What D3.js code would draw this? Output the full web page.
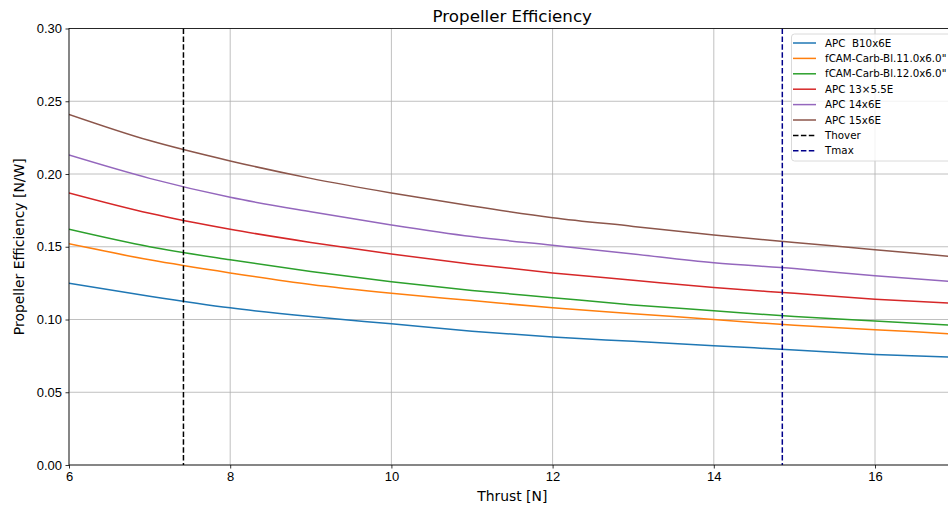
<!DOCTYPE html>
<html>
<head>
<meta charset="utf-8">
<script src="https://cdn.jsdelivr.net/npm/d3@7"></script>
<style>
  body { margin: 0; background: #fff; }
  svg { display: block; font-family: "DejaVu Sans", sans-serif; }
  .tick text { font-size: 13px; fill: #000; }
  text { white-space: pre; }
</style>
</head>
<body>
<div id="chart"></div>
<script>
// ! Data
var thrust = [6, 7, 8, 9, 10, 11, 12, 13, 14, 15, 16, 17];

var eff_b10 = [0.125, 0.116, 0.108, 0.102, 0.097, 0.092, 0.088, 0.085, 0.082, 0.079, 0.076, 0.074];
var eff_f11 = [0.152, 0.141, 0.132, 0.124, 0.118, 0.113, 0.108, 0.104, 0.100, 0.096, 0.093, 0.090];
var eff_f12 = [0.162, 0.150, 0.141, 0.133, 0.126, 0.120, 0.115, 0.110, 0.106, 0.102, 0.099, 0.096];
var eff_13 = [0.187, 0.173, 0.162, 0.153, 0.145, 0.138, 0.132, 0.127, 0.122, 0.118, 0.114, 0.111];
var eff_14 = [0.213, 0.197, 0.184, 0.174, 0.165, 0.157, 0.151, 0.145, 0.139, 0.135, 0.130, 0.126];
var eff_15 = [0.241, 0.223, 0.209, 0.197, 0.187, 0.178, 0.170, 0.164, 0.158, 0.153, 0.148, 0.143];

var series_names = ["APC  B10x6E", "fCAM-Carb-Bl.11.0x6.0\"", "fCAM-Carb-Bl.12.0x6.0\"", "APC 13\u00d75.5E", "APC 14x6E", "APC 15x6E"];
var series_values = [eff_b10, eff_f11, eff_f12, eff_13, eff_14, eff_15];
var series_colors = ["#1f77b4", "#ff7f0e", "#2ca02c", "#d62728", "#9467bd", "#8c564b"];

var t_hover = 7.42;
var t_max = 14.85;

var x_ticks = [6, 8, 10, 12, 14, 16];
var y_ticks = [0, 0.05, 0.10, 0.15, 0.20, 0.25, 0.30];

// ! Layout
var width = 948, height = 506;
var plot_left = 69, plot_right = 955.6, plot_top = 28.5, plot_bottom = 465;

var svg = d3.select("#chart")
  .append("svg")
  .attr("width", width)
  .attr("height", height);

var x = d3.scaleLinear().domain([6, 17]).range([plot_left, plot_right]);
var y = d3.scaleLinear().domain([0, 0.30]).range([plot_bottom, plot_top]);

// grid
svg.append("g")
  .selectAll("line")
  .data(x_ticks)
  .enter()
  .append("line")
  .attr("x1", function(d) { return x(d); })
  .attr("x2", function(d) { return x(d); })
  .attr("y1", plot_top)
  .attr("y2", plot_bottom)
  .attr("stroke", "#b0b0b0")
  .attr("stroke-width", 0.8);

svg.append("g")
  .selectAll("line")
  .data(y_ticks)
  .enter()
  .append("line")
  .attr("x1", plot_left)
  .attr("x2", plot_right)
  .attr("y1", function(d) { return y(d); })
  .attr("y2", function(d) { return y(d); })
  .attr("stroke", "#b0b0b0")
  .attr("stroke-width", 0.8);

// clip for the plot area
svg.append("clipPath")
  .attr("id", "plot_clip")
  .append("rect")
  .attr("x", plot_left)
  .attr("y", plot_top)
  .attr("width", plot_right - plot_left)
  .attr("height", plot_bottom - plot_top);

var line = d3.line()
  .x(function(d) { return x(d[0]); })
  .y(function(d) { return y(d[1]); })
  .curve(d3.curveMonotoneX);

var plot = svg.append("g").attr("clip-path", "url(#plot_clip)");

series_values.forEach(function(vals, i) {
  plot.append("path")
    .datum(d3.zip(thrust, vals))
    .attr("d", line)
    .attr("fill", "none")
    .attr("stroke", series_colors[i])
    .attr("stroke-width", 1.5);
});

// vertical markers
plot.append("line")
  .attr("x1", x(t_hover)).attr("x2", x(t_hover))
  .attr("y1", plot_top).attr("y2", plot_bottom)
  .attr("stroke", "#000")
  .attr("stroke-width", 1.5)
  .attr("stroke-dasharray", "5.5,2.4");

plot.append("line")
  .attr("x1", x(t_max)).attr("x2", x(t_max))
  .attr("y1", plot_top).attr("y2", plot_bottom)
  .attr("stroke", "#00008b")
  .attr("stroke-width", 1.5)
  .attr("stroke-dasharray", "5.5,2.4");

// axes
var xAxis = svg.append("g")
  .attr("transform", "translate(0," + plot_bottom + ")")
  .call(d3.axisBottom(x).tickValues(x_ticks).tickSize(3.5).tickPadding(3.5).tickFormat(d3.format("d")));

var yAxis = svg.append("g")
  .attr("transform", "translate(" + plot_left + ",0)")
  .call(d3.axisLeft(y).tickValues(y_ticks).tickSize(3.5).tickPadding(3.5).tickFormat(d3.format(".2f")));

[xAxis, yAxis].forEach(function(a) {
  a.select(".domain").remove();
  a.selectAll(".tick line").attr("stroke", "#000").attr("stroke-width", 0.8);
});

// spines
svg.append("rect")
  .attr("x", plot_left)
  .attr("y", plot_top)
  .attr("width", plot_right - plot_left)
  .attr("height", plot_bottom - plot_top)
  .attr("fill", "none")
  .attr("stroke", "#000")
  .attr("stroke-width", 0.8);

// titles
svg.append("text")
  .attr("x", (plot_left + plot_right) / 2)
  .attr("y", 22)
  .attr("text-anchor", "middle")
  .style("font-size", "16.7px")
  .text("Propeller Efficiency");

svg.append("text")
  .attr("x", (plot_left + plot_right) / 2)
  .attr("y", 501)
  .attr("text-anchor", "middle")
  .style("font-size", "13.9px")
  .text("Thrust [N]");

svg.append("text")
  .attr("transform", "translate(24," + ((plot_top + plot_bottom) / 2) + ") rotate(-90)")
  .attr("text-anchor", "middle")
  .style("font-size", "13.9px")
  .text("Propeller Efficiency [N/W]");

// ! Legend
var legend_items = series_names.map(function(n, i) {
  return { name: n, color: series_colors[i], dash: null };
});
legend_items.push({ name: "Thover", color: "#000", dash: "5.5,2.4" });
legend_items.push({ name: "Tmax", color: "#00008b", dash: "5.5,2.4" });

var legend = svg.append("g");

legend.append("rect")
  .attr("x", 791.5)
  .attr("y", 34)
  .attr("width", 175)
  .attr("height", 127)
  .attr("rx", 3)
  .attr("fill", "#fff")
  .attr("fill-opacity", 0.8)
  .attr("stroke", "#d0d0d0")
  .attr("stroke-width", 0.8);

var row = legend.selectAll("g.row")
  .data(legend_items)
  .enter()
  .append("g")
  .attr("class", "row")
  .attr("transform", function(d, i) { return "translate(0," + (43 + i * 15.4) + ")"; });

row.append("line")
  .attr("x1", 793)
  .attr("x2", 816)
  .attr("y1", 0)
  .attr("y2", 0)
  .attr("stroke", function(d) { return d.color; })
  .attr("stroke-width", 1.5)
  .attr("stroke-dasharray", function(d) { return d.dash; });

row.append("text")
  .attr("x", 825)
  .attr("y", 0)
  .attr("dy", "0.35em")
  .style("font-size", "10.3px")
  .text(function(d) { return d.name; });
</script>
</body>
</html>
